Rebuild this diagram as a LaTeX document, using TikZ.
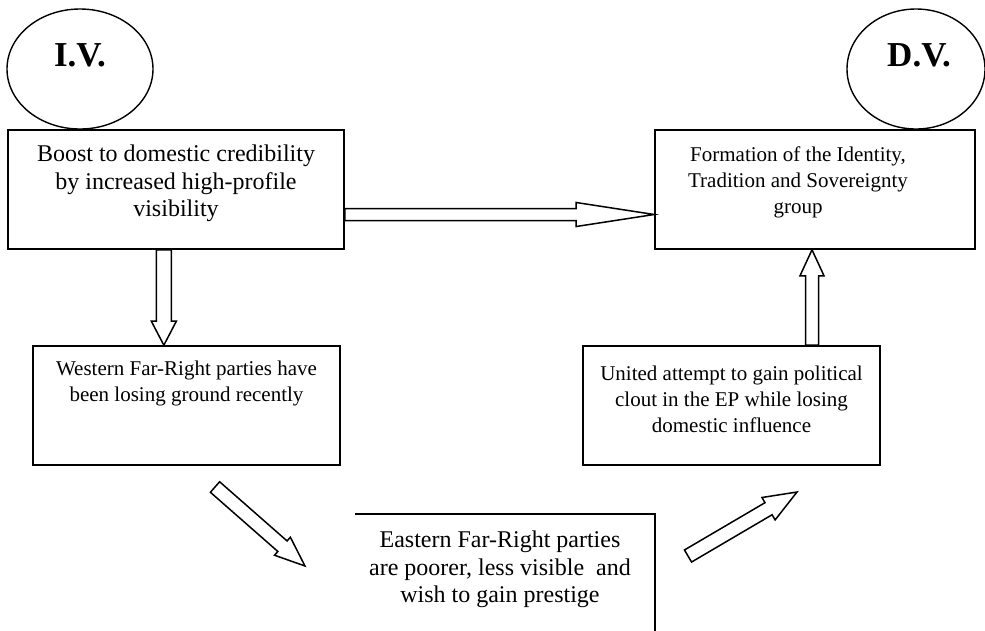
\documentclass[tikz,border=0pt]{standalone}
\usepackage{fontspec}
\setmainfont{Liberation Serif}
\usetikzlibrary{shapes.geometric,calc,positioning}

\newcommand{\hollowarrow}[5]{%
\path ($(#2)!#3!(#1)$) coordinate (hb);
\draw [blockline] ($(#1)!#4!90:(#2)$) -- ($(hb)!#4!90:(#2)$) -- ($(hb)!#5!90:(#2)$) -- (#2)
  -- ($(hb)!#5!-90:(#2)$) -- ($(hb)!#4!-90:(#2)$) -- ($(#1)!#4!-90:(#2)$) -- cycle;}

\begin{document}
\begin{tikzpicture}
[x=1pt, y=-1pt,
 box/.style={draw, rectangle, line width=1.6pt, inner sep=0},
 oval/.style={draw, ellipse, line width=1.4pt, inner sep=0},
 txt/.style={align=center, inner sep=0, font=\fontsize{24}{27.5}\selectfont},
 smalltxt/.style={align=center, inner sep=0, font=\fontsize{21}{26}\selectfont},
 head/.style={inner sep=0, font=\fontsize{35}{38}\selectfont\bfseries},
 blockline/.style={line width=1.5pt, line join=miter}]
\useasboundingbox (0,0) rectangle (985,630);
% ovals
\node (iv) [oval, minimum width=146pt, minimum height=120pt] at (80,69) {};
\node (dv) [oval, minimum width=138pt, minimum height=120pt] at (916,69) {};
\node (ivtxt) [head] at (80,55) {I.V.};
\node (dvtxt) [head] at (919,55) {D.V.};
% boxes
\node (b1) [box, minimum width=336pt, minimum height=119pt] at (176,189.5) {};
\node (b2) [box, minimum width=320pt, minimum height=119pt] at (815,189.5) {};
\node (b3) [box, minimum width=307pt, minimum height=119pt] at (186.5,405.5) {};
\node (b4) [box, minimum width=297pt, minimum height=119pt] at (731.5,405.5) {};
\coordinate (b5w) at (355,514);
\coordinate (b5e) at (655,514);
\coordinate (b5top) at (500,514);
\draw [line width=1.6pt] (b5w) -- (b5e) -- (b5e |- 0,632);
% texts
\node (t1) [txt, below=15.5pt of b1.north] {Boost to domestic credibility\\by increased high-profile\\visibility};
\node (t2) [smalltxt, below=17pt of b2.north, xshift=-17pt] {Formation of the Identity,\\Tradition and Sovereignty\\group};
\node (t3) [smalltxt, below=16pt of b3.north] {Western Far-Right parties have\\been losing ground recently};
\node (t4) [smalltxt, below=21pt of b4.north] {United attempt to gain political\\clout in the EP while losing\\domestic influence};
\node (t5) [txt, below=17pt of b5top] {Eastern Far-Right parties\\are poorer, less visible~ and\\wish to gain prestige};
% arrows
\coordinate (a1s) at ($(b1.south west)!0.464!(b1.south east)$);
\coordinate (a1e) at (a1s |- b3.north);
\hollowarrow{a1s}{a1e}{24pt}{7.5pt}{12.5pt}
\coordinate (a2s) at ([yshift=-25pt]b1.east);
\coordinate (a2e) at (a2s -| b2.west);
\hollowarrow{a2s}{a2e}{78pt}{6pt}{12pt}
\coordinate (a3s) at ([xshift=80.5pt]b4.north);
\coordinate (a3e) at (a3s |- b2.south);
\hollowarrow{a3s}{a3e}{26pt}{6.5pt}{12pt}
\coordinate (a4s) at (215,487);
\coordinate (a4e) at (305,566);
\hollowarrow{a4s}{a4e}{30pt}{7pt}{12pt}
\coordinate (a5s) at (688,556);
\coordinate (a5e) at (797,492);
\hollowarrow{a5s}{a5e}{33pt}{7pt}{13pt}
\end{tikzpicture}
\end{document}
